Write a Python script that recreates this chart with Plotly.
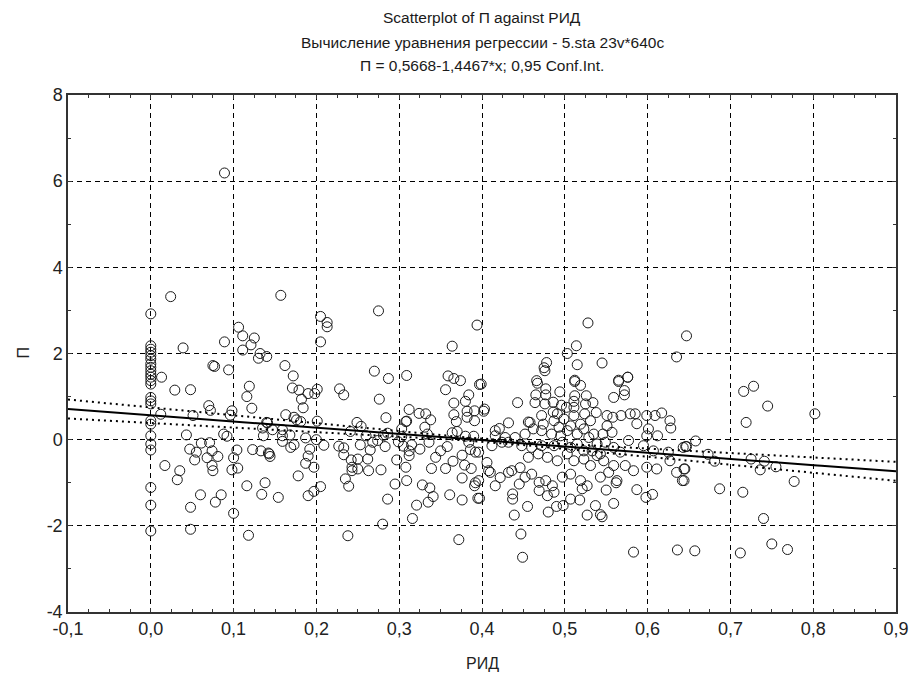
import numpy as np
import plotly.graph_objects as go

# ---------------- data ----------------
# column of observations at RID = 0
stack0_y = [2.92, 2.18, 2.10, 2.03, 1.95, 1.87, 1.76, 1.68, 1.60, 1.52, 1.45, 1.37, 1.29,
            0.98, 0.90, 0.83, 0.44, 0.36, 0.09, -0.10, -0.24, -1.11, -1.52, -2.12]
stack0_x = [0.0] * len(stack0_y)

left_x = [0.089, 0.024, 0.039, 0.075, 0.077, 0.094, 0.089, 0.106, 0.111, 0.125, 0.121, 0.111, 0.132,
          0.140, 0.130, 0.013, 0.029, 0.048, 0.119, 0.116, 0.122, 0.070, 0.072, 0.012, 0.051, 0.098,
          0.096, 0.140, 0.135, 0.136, 0.043, 0.088, 0.092, 0.061, 0.071, 0.074, 0.055, 0.047, 0.053,
          0.068, 0.081, 0.074, 0.075, 0.104, 0.100, 0.105, 0.098, 0.123, 0.133, 0.143, 0.017, 0.035,
          0.032, 0.060, 0.085, 0.078, 0.048, 0.116, 0.138, 0.134, 0.100, 0.048, 0.118]
left_y = [6.19, 3.32, 2.13, 1.72, 1.70, 1.62, 2.27, 2.61, 2.41, 2.36, 2.20, 2.08, 2.00,
          1.93, 1.89, 1.45, 1.15, 1.16, 1.24, 1.00, 0.73, 0.79, 0.68, 0.59, 0.56, 0.67,
          0.57, 0.40, 0.27, 0.09, 0.11, 0.13, 0.08, -0.08, -0.07, -0.26, -0.29, -0.22, -0.47,
          -0.42, -0.39, -0.60, -0.72, -0.24, -0.42, -0.66, -0.70, -0.23, -0.26, -0.33, -0.60, -0.72,
          -0.93, -1.28, -1.28, -1.45, -1.57, -1.07, -1.00, -1.27, -1.71, -2.08, -2.22]

upper_x = [0.157, 0.205, 0.213, 0.213, 0.205, 0.275, 0.394, 0.364, 0.162, 0.172, 0.270, 0.287, 0.309,
           0.359, 0.366, 0.374, 0.528, 0.514, 0.503, 0.515, 0.545, 0.478, 0.475, 0.466, 0.512, 0.565,
           0.576, 0.635, 0.647]
upper_y = [3.35, 2.86, 2.72, 2.62, 2.27, 2.99, 2.66, 2.17, 1.72, 1.48, 1.59, 1.42, 1.49,
           1.48, 1.42, 1.37, 2.71, 2.18, 2.00, 1.74, 1.78, 1.79, 1.67, 1.37, 1.38, 1.38,
           1.45, 1.92, 2.41]

right_x = [0.716, 0.728, 0.745, 0.719, 0.802, 0.658, 0.646, 0.673, 0.681, 0.725, 0.741, 0.736, 0.755,
           0.777, 0.687, 0.715, 0.645, 0.644, 0.740, 0.657, 0.712, 0.750, 0.769]
right_y = [1.12, 1.24, 0.78, 0.40, 0.60, -0.03, -0.16, -0.34, -0.50, -0.45, -0.50, -0.70, -0.63,
           -0.97, -1.14, -1.22, -0.68, -0.95, -1.83, -2.58, -2.63, -2.42, -2.55]

mid_x = [0.171, 0.179, 0.190, 0.198, 0.201, 0.182, 0.184, 0.228, 0.233, 0.276, 0.356, 0.384, 0.366,
         0.380, 0.397, 0.312, 0.284, 0.324, 0.332, 0.338, 0.309, 0.366, 0.369, 0.382, 0.391, 0.391,
         0.382, 0.163, 0.173, 0.181, 0.176, 0.201, 0.141, 0.147, 0.159, 0.159, 0.168, 0.159, 0.169,
         0.173, 0.187, 0.200, 0.209, 0.192, 0.190, 0.187, 0.197, 0.178, 0.142, 0.144, 0.154, 0.190,
         0.197, 0.205, 0.227, 0.233, 0.233, 0.242, 0.250, 0.243, 0.243, 0.250, 0.262, 0.263, 0.235,
         0.239, 0.241, 0.249, 0.254, 0.260, 0.253, 0.268, 0.265, 0.274, 0.283, 0.278, 0.281, 0.286,
         0.297, 0.295, 0.286, 0.280, 0.238, 0.303, 0.308, 0.303, 0.299, 0.305, 0.312, 0.312, 0.315,
         0.308, 0.309, 0.325, 0.336, 0.334, 0.331, 0.344, 0.339, 0.350, 0.358, 0.328, 0.337, 0.341,
         0.335, 0.321, 0.316, 0.356, 0.365, 0.376, 0.379, 0.387, 0.376, 0.361, 0.376, 0.372, 0.364,
         0.370, 0.380, 0.390, 0.384, 0.386, 0.392, 0.392, 0.395, 0.391]
mid_y = [1.20, 1.15, 1.07, 1.07, 1.17, 0.94, 0.74, 1.18, 1.04, 0.94, 1.16, 1.04, 0.85,
         0.89, 1.28, 0.70, 0.51, 0.61, 0.60, 0.46, 0.43, 0.58, 0.42, 0.66, 0.67, 0.44,
         0.52, 0.58, 0.52, 0.42, 0.46, 0.43, 0.39, 0.23, 0.23, 0.09, 0.11, -0.04, -0.18,
         -0.12, 0.04, 0.00, -0.13, -0.22, -0.38, -0.55, -0.64, -0.84, -0.31, -0.39, -1.34, -1.30,
         -1.20, -1.09, -0.15, -0.19, -0.35, -0.47, -0.45, -0.64, -0.72, -0.68, -0.45, -0.72, -0.91,
         -1.08, 0.19, 0.40, 0.31, 0.09, -0.12, -0.06, -0.24, -0.02, -0.16, -0.70, 0.10, 0.15,
         -0.47, -1.03, -1.38, -1.96, -2.23, 0.25, 0.42, 0.07, -0.05, -0.15, -0.26, -0.37, -0.12,
         -0.64, -0.95, -0.22, -0.06, 0.13, 0.29, -0.41, -0.67, -0.26, -0.16, -1.05, -1.12, -1.32,
         -1.45, -1.52, -1.83, -0.67, -0.50, -0.36, -0.59, -0.67, -0.89, -1.28, -1.40, -2.32, 0.16,
         0.19, 0.08, 0.08, -0.06, -0.23, -0.29, -1.00, -1.36, -1.07]

dense_x = [0.399, 0.443, 0.467, 0.477, 0.477, 0.465, 0.464, 0.476, 0.494, 0.512, 0.519, 0.512, 0.511,
           0.526, 0.534, 0.565, 0.576, 0.572, 0.572, 0.559, 0.403, 0.402, 0.432, 0.416, 0.421,
           0.456, 0.472, 0.486, 0.496, 0.502, 0.511, 0.524, 0.538, 0.531, 0.487, 0.499, 0.511, 0.519,
           0.515, 0.503, 0.493, 0.484, 0.474, 0.462, 0.452, 0.440, 0.428, 0.424, 0.416, 0.412,
           0.551, 0.558, 0.568, 0.557, 0.546, 0.535, 0.529, 0.539, 0.549, 0.559, 0.567, 0.577, 0.579,
           0.587, 0.585, 0.599, 0.609, 0.617, 0.627, 0.628, 0.612, 0.599, 0.601, 0.595, 0.607, 0.625,
           0.643, 0.647]
dense_y = [1.29, 0.86, 1.31, 1.18, 1.04, 1.04, 0.86, 0.83, 1.11, 1.35, 1.26, 1.02, 0.89,
           1.02, 0.86, 1.35, 1.45, 1.14, 1.04, 0.98, 0.71, 0.66, 0.39, 0.21, 0.26,
           0.41, 0.56, 0.64, 0.80, 0.75, 0.75, 0.60, 0.63, 0.44, 0.44, 0.48, 0.56, 0.36,
           0.13, 0.21, 0.29, 0.13, 0.36, 0.25, 0.13, 0.05, 0.05, -0.06, 0.09, -0.14,
           0.32, 0.52, 0.56, 0.17, 0.13, 0.13, 0.05, -0.10, -0.06, -0.18, -0.29, -0.02, 0.60,
           0.37, 0.60, 0.56, 0.56, 0.62, 0.44, 0.27, 0.09, 0.09, 0.25, -0.14, -0.26, -0.29,
           -0.18, -0.16]

low_x = [0.396, 0.406, 0.408, 0.396, 0.410, 0.416, 0.422, 0.432, 0.436, 0.446, 0.445, 0.437, 0.437,
         0.397, 0.439, 0.455, 0.480, 0.490, 0.498, 0.507, 0.518, 0.527, 0.537, 0.543, 0.545, 0.559,
         0.550, 0.562, 0.587, 0.598, 0.606, 0.447, 0.449, 0.583, 0.636,
         0.456, 0.468, 0.479, 0.491, 0.503, 0.511, 0.523, 0.531, 0.539, 0.547, 0.559, 0.573, 0.583,
         0.599, 0.611, 0.627, 0.635, 0.642, 0.644, 0.452, 0.460, 0.469, 0.477, 0.485, 0.487, 0.479,
         0.469, 0.497, 0.507, 0.519, 0.521, 0.527, 0.543, 0.553, 0.563,
         0.432, 0.448, 0.460, 0.472, 0.487, 0.497, 0.507, 0.515, 0.523, 0.533, 0.543,
         0.486, 0.525, 0.551, 0.491, 0.458, 0.472, 0.495, 0.507, 0.523, 0.476]
low_y = [-0.29, -0.53, -0.72, -0.95, -0.76, -1.07, -0.88, -0.76, -0.72, -0.65, -1.03, -1.26, -1.38,
         -1.36, -1.75, -1.55, -1.68, -1.55, -1.53, -1.38, -1.40, -1.75, -1.53, -1.74, -1.79, -1.48,
         -1.17, -1.00, -1.16, -1.34, -1.27, -2.19, -2.73, -2.61, -2.56,
         -0.41, -0.33, -0.41, -0.49, -0.33, -0.49, -0.45, -0.60, -0.37, -0.49, -0.60, -0.60, -0.72,
         -0.64, -0.68, -0.49, -0.76, -0.95, -0.68, -0.87, -0.80, -0.99, -0.95, -1.07, -1.22, -1.30,
         -1.18, -0.87, -0.80, -0.95, -1.14, -1.07, -0.87, -0.76, -0.95,
         -0.06, -0.14, -0.18, -0.14, -0.14, -0.06, -0.18, -0.10, -0.26, -0.26, -0.33,
         0.87, 0.83, 0.56, 0.60, 0.40, 0.21, 0.09, 0.32, 0.25, 1.60]

# regression (from subtitle) and 0.95 confidence band parameters
reg_intercept = 0.5668
reg_slope = -1.4467
ci_xmean = 0.40
ci_a = 0.00123     # squared half-width at the mean
ci_b = 0.1887      # growth with squared distance from the mean

x_tick_vals = [-0.1, 0.0, 0.1, 0.2, 0.3, 0.4, 0.5, 0.6, 0.7, 0.8, 0.9]
x_tick_text = ["-0,1", "0,0", "0,1", "0,2", "0,3", "0,4", "0,5", "0,6", "0,7", "0,8", "0,9"]
y_tick_vals = [-4, -2, 0, 2, 4, 6, 8]
y_tick_text = ["-4", "-2", "0", "2", "4", "6", "8"]

title_lines = ["Scatterplot of П against РИД",
               "Вычисление уравнения регрессии - 5.sta 23v*640c",
               "П = 0,5668-1,4467*x; 0,95 Conf.Int."]

# ---------------- figure ----------------
xs = stack0_x + left_x + upper_x + right_x + mid_x + dense_x + low_x
ys = stack0_y + left_y + upper_y + right_y + mid_y + dense_y + low_y

FONT = "Liberation Sans, Arial, sans-serif"
fig = go.Figure()

fig.add_trace(go.Scatter(
    x=xs, y=ys, mode="markers",
    marker=dict(symbol="circle-open", size=10, color="#1a1a1a", line=dict(width=1, color="#1a1a1a")),
    showlegend=False, hoverinfo="x+y"))

lx = np.linspace(-0.1, 0.9, 201)
ly = reg_intercept + reg_slope * lx
hw = np.sqrt(ci_a + ci_b * (lx - ci_xmean) ** 2)

fig.add_trace(go.Scatter(x=lx, y=ly + hw, mode="lines",
                         line=dict(color="black", width=2, dash="2px,4px"),
                         showlegend=False, hoverinfo="skip"))
fig.add_trace(go.Scatter(x=lx, y=ly - hw, mode="lines",
                         line=dict(color="black", width=2, dash="2px,4px"),
                         showlegend=False, hoverinfo="skip"))
fig.add_trace(go.Scatter(x=lx, y=ly, mode="lines",
                         line=dict(color="black", width=2),
                         showlegend=False, hoverinfo="skip"))

axis_common = dict(
    showline=True, linecolor="#333333", linewidth=1.5, mirror="allticks",
    showgrid=True, gridcolor="black", gridwidth=1, griddash="5px,4px",
    zeroline=False, ticks="inside", ticklen=4, tickcolor="#333333",
    tickfont=dict(family=FONT, size=18, color="#222222"),
)

fig.update_xaxes(range=[-0.1, 0.9], tickvals=x_tick_vals, ticktext=x_tick_text,
                 minor=dict(dtick=0.025, tick0=0, ticks="inside", ticklen=3, tickcolor="#333333",
                            showgrid=False),
                 **axis_common)
fig.update_yaxes(range=[-4, 8], tickvals=y_tick_vals, ticktext=y_tick_text,
                 minor=dict(dtick=1, tick0=0, ticks="inside", ticklen=3, tickcolor="#333333",
                            showgrid=False),
                 **axis_common)

# The page body has an 8px margin, so figure pixel = page pixel - 8.
# Plot area in page pixels: x 68..906, y 95..612.
annotations = []
for line, py in zip(title_lines, [18, 42, 66]):
    annotations.append(dict(text=line, xref="paper", yref="paper", x=0.5,
                            y=(612 - py) / 517, xanchor="center", yanchor="middle",
                            showarrow=False, font=dict(family=FONT, size=15.5, color="#1a1a1a")))
annotations.append(dict(text="РИД", xref="paper", yref="paper", x=0.5, y=(612 - 663) / 517,
                        xanchor="center", yanchor="middle", showarrow=False,
                        font=dict(family=FONT, size=16, color="#222222")))
annotations.append(dict(text="П", xref="paper", yref="paper", x=(22 - 68) / 838, y=(612 - 353) / 517,
                        xanchor="center", yanchor="middle", showarrow=False, textangle=-90,
                        font=dict(family=FONT, size=16, color="#222222")))

fig.update_layout(
    width=913, height=666,
    margin=dict(l=60, r=15, t=87, b=62),
    paper_bgcolor="white", plot_bgcolor="white",
    annotations=annotations,
    showlegend=False,
)

fig.write_html("out.html")
